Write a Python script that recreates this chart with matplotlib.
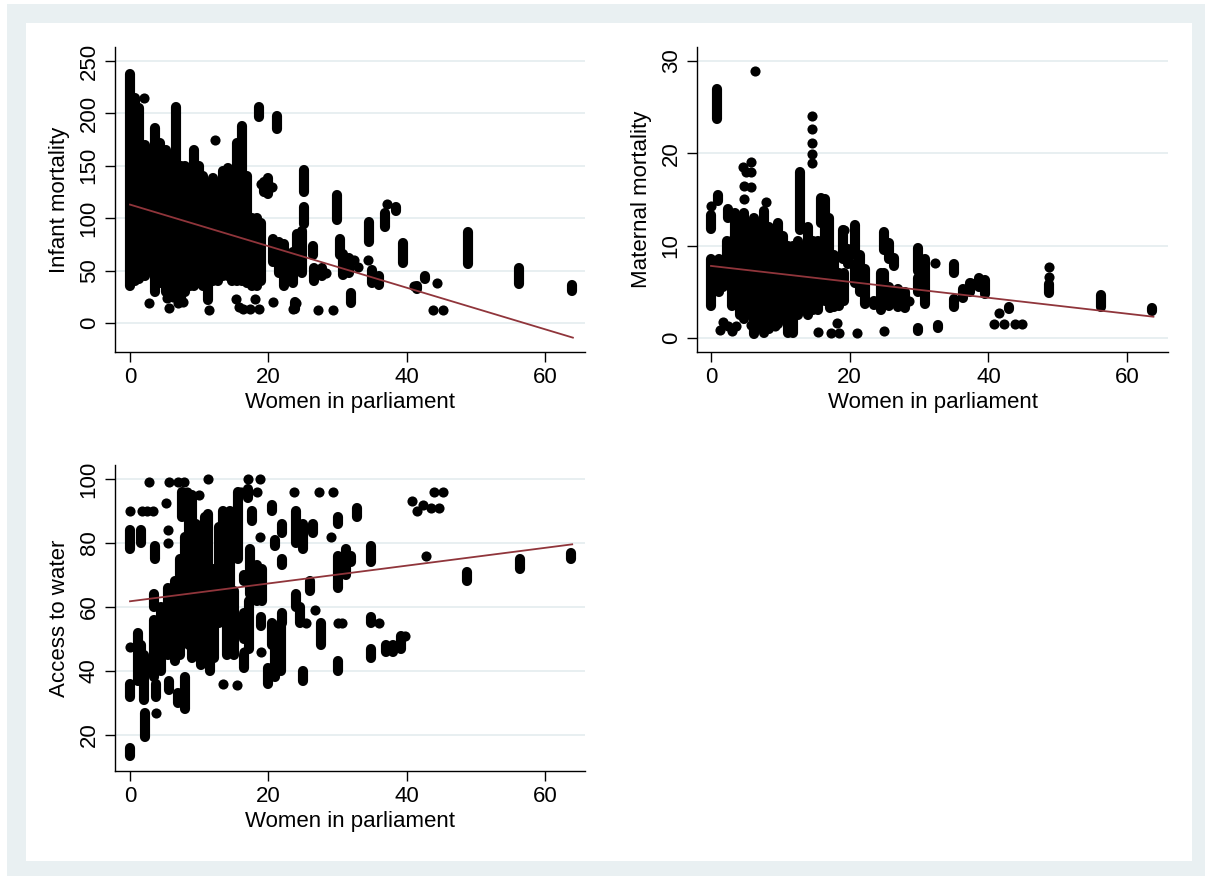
import matplotlib.pyplot as plt
from matplotlib.patches import Rectangle

plt.rcParams['font.family'] = ['Liberation Sans', 'DejaVu Sans']

# women in parliament (x) vs. outcome; country stacks as (x, low, high), single dots as (x, y)
inf_cols = [
    (0.0, 35, 238), (0.7, 40, 215), (1.3, 42, 205), (2.2, 45, 170), (3.0, 50, 160),
    (3.6, 30, 186), (4.4, 38, 172), (5.2, 30, 165), (6.0, 25, 160), (6.6, 40, 206),
    (7.3, 22, 150), (8.0, 30, 150), (8.7, 35, 140), (9.2, 35, 165), (9.9, 38, 150),
    (10.6, 35, 140), (11.3, 22, 130), (12.0, 40, 138), (12.7, 40, 130), (13.4, 45, 145),
    (14.1, 45, 148), (14.8, 40, 130), (15.5, 40, 172), (16.2, 40, 188), (16.9, 38, 140),
    (17.6, 35, 100), (18.3, 35, 100), (18.6, 197, 206), (19.0, 40, 95), (19.3, 125, 135),
    (20.0, 123, 138), (20.6, 58, 80), (21.2, 185, 198), (21.5, 48, 77), (22.2, 35, 75),
    (23.5, 38, 68), (24.2, 55, 85), (24.8, 48, 88), (23.8, 13, 20), (25.1, 125, 146),
    (25.2, 94, 111), (26.5, 65, 73), (26.6, 40, 52), (27.7, 45, 52), (29.9, 98, 122),
    (30.4, 65, 80), (30.8, 46, 66), (31.6, 48, 62), (31.9, 19, 29), (34.6, 77, 96),
    (35.0, 38, 51), (36.0, 36, 45), (36.8, 92, 105), (38.5, 107, 111), (39.5, 57, 76),
    (41.5, 32, 35), (42.6, 42, 45), (48.9, 56, 87), (56.2, 37, 52), (63.8, 31, 36),
]
inf_pts = [
    (2.0, 215), (2.8, 19), (5.3, 24), (5.7, 14), (6.2, 25), (7.0, 19), (7.6, 20),
    (11.4, 12), (12.3, 175), (15.3, 23), (15.8, 15), (16.3, 13), (17.3, 13), (18.0, 23),
    (18.6, 13), (19.0, 133), (20.6, 20), (23.5, 13), (24.0, 19), (27.2, 12), (28.3, 48),
    (29.3, 12), (34.4, 60), (37.2, 114), (41.0, 35), (43.8, 12), (44.3, 38), (45.2, 12),
    (20.5, 130), (32.3, 60), (33.0, 53),
]
inf_fit_x = [0, 64]
inf_fit_y = [113, -14]

mat_cols = [
    (0.0, 3.5, 8.5), (0.0, 11.8, 13.3), (0.9, 23.7, 27.0), (1.0, 14.8, 15.5), (1.2, 5.0, 8.5),
    (1.8, 5.5, 7.0), (2.3, 6.0, 10.5), (2.4, 13.0, 14.0), (3.0, 3.5, 10.5), (3.5, 4.5, 13.5),
    (4.2, 2.5, 12.5), (4.8, 2.0, 13.5), (5.5, 3.5, 12.5), (6.2, 0.4, 13.0), (6.9, 2.5, 12.5),
    (7.6, 0.5, 13.7), (8.3, 1.0, 12.0), (9.0, 1.5, 11.5), (9.7, 1.5, 12.5), (10.4, 2.0, 11.0),
    (11.1, 0.5, 10.0), (11.8, 0.5, 10.0), (12.5, 2.5, 10.5), (12.9, 11.7, 18.0), (13.3, 3.0, 9.5),
    (14.0, 2.5, 12.0), (14.7, 3.0, 10.5), (15.4, 3.0, 10.5), (15.8, 12.5, 15.2), (16.5, 4.0, 15.0),
    (17.0, 9.5, 13.0), (17.2, 3.2, 7.0), (17.7, 3.3, 9.0), (18.4, 3.5, 7.0), (19.0, 8.5, 11.7),
    (19.2, 4.0, 7.0), (19.8, 8.0, 9.6), (20.8, 9.0, 12.2), (20.8, 6.0, 8.0), (21.5, 5.0, 9.0),
    (22.2, 3.7, 7.5), (23.5, 3.6, 4.0), (24.5, 3.0, 7.0), (25.0, 9.5, 11.5), (25.0, 5.0, 7.0),
    (25.7, 8.5, 10.3), (25.7, 3.5, 5.5), (26.4, 7.8, 8.7), (27.0, 3.3, 5.3), (28.0, 3.2, 5.0),
    (29.8, 7.2, 9.7), (29.8, 5.0, 6.5), (29.9, 0.8, 1.1), (30.8, 3.7, 8.6), (32.8, 1.1, 1.4),
    (35.0, 7.0, 8.0), (35.0, 3.4, 4.2), (36.3, 4.3, 5.3), (37.3, 5.0, 6.0), (38.6, 5.5, 6.5),
    (39.5, 4.8, 6.3), (43.0, 3.1, 3.4), (48.8, 4.9, 5.8), (56.3, 3.4, 4.6), (63.6, 2.9, 3.2),
]
mat_pts = [
    (0.0, 14.3), (6.4, 28.9), (14.6, 18.9), (14.6, 19.9), (14.6, 21.1), (14.6, 22.6),
    (14.6, 24.0), (4.6, 18.5), (5.0, 18.0), (4.8, 16.4), (4.8, 15.0), (5.7, 19.0),
    (5.7, 18.0), (5.8, 16.3), (7.9, 14.7), (19.2, 11.7), (28.5, 4.0), (32.3, 8.1),
    (37.5, 5.9), (40.8, 1.5), (41.5, 2.7), (42.3, 1.5), (43.8, 1.5), (44.8, 1.5),
    (48.8, 6.6), (48.8, 7.7), (1.3, 0.9), (1.8, 1.7), (2.5, 1.3), (3.0, 0.7), (3.6, 1.3),
    (5.8, 1.4), (9.2, 1.3), (17.3, 0.5), (18.2, 1.6), (18.5, 0.5), (21.0, 0.5),
    (25.0, 0.7), (15.4, 0.6),
]
mat_fit_x = [0, 63.8]
mat_fit_y = [7.8, 2.3]

wat_cols = [
    (0.0, 78, 84), (0.0, 32, 36), (0.0, 13.5, 16), (1.1, 37, 52), (1.6, 80, 84),
    (1.6, 38, 48), (2.0, 31, 45), (2.2, 19.5, 27), (3.5, 38, 56), (3.5, 60, 64),
    (3.6, 75, 79), (3.7, 32, 36), (4.5, 40, 60), (5.5, 45, 66), (5.6, 34, 37),
    (6.5, 43, 68), (7.0, 30, 33), (7.2, 45, 75), (7.5, 88, 96), (8.0, 28, 38),
    (8.0, 50, 82), (8.5, 48, 88), (9.0, 44, 95), (9.6, 47, 86), (10.2, 42, 80),
    (10.8, 50, 88), (11.3, 66, 89), (11.5, 40, 60), (12.2, 44, 72), (12.8, 55, 85),
    (13.5, 60, 90), (14.0, 45, 80), (14.5, 58, 90), (15.0, 45, 65), (15.6, 75, 96),
    (16.5, 41, 45), (16.5, 50, 58), (16.5, 68, 70), (17.0, 94, 97), (17.2, 47, 62),
    (17.4, 64, 78), (17.7, 87, 90), (18.3, 62, 73), (19.0, 54, 57), (19.1, 62, 72),
    (20.0, 36, 41), (20.5, 90, 92), (20.5, 48, 55), (21.0, 79, 81), (21.0, 38, 49),
    (21.8, 40, 55), (22.0, 83, 86), (22.0, 73, 75), (22.0, 55, 58), (24.0, 80, 90),
    (24.0, 60, 64), (24.6, 55, 60), (25.0, 78, 86), (25.0, 37, 40), (26.0, 65, 68),
    (26.5, 83, 86), (27.6, 48, 55), (30.0, 86, 88), (30.0, 66, 76), (30.0, 40, 43),
    (31.2, 70, 78), (32.0, 74, 76), (32.8, 88, 91), (34.8, 74, 79), (34.8, 55, 57),
    (34.8, 44, 47), (37.0, 46, 48), (38.0, 46, 48), (39.2, 47, 51), (48.7, 68, 71),
    (56.3, 72, 75), (63.7, 75, 77),
]
wat_pts = [
    (0.0, 90), (0.0, 47.5), (2.8, 99), (2.5, 90), (1.8, 90), (3.3, 90), (3.7, 27),
    (5.2, 92.5), (5.5, 80), (5.5, 84), (5.6, 99), (7.0, 99), (7.8, 99), (8.3, 96),
    (10.0, 95), (11.3, 100), (13.5, 36), (15.5, 35.5), (16.1, 96), (17.0, 100),
    (18.3, 96), (18.8, 100), (18.8, 82), (19.0, 46), (23.7, 96), (25.4, 55), (26.8, 59),
    (27.3, 96), (29.1, 82), (29.3, 96), (30.0, 55), (30.6, 55), (36.0, 55), (39.8, 51),
    (40.8, 93), (41.5, 90), (42.3, 92), (42.8, 76), (43.5, 91), (44.0, 96), (44.6, 91),
    (45.3, 96), (16.5, 46), (14.8, 46),
]
wat_fit_x = [0, 63.9]
wat_fit_y = [61.8, 79.6]

BG = '#e9f0f2'
GRID = '#e4ecef'
FIT = '#90353b'
MS = 7.3  # marker diameter in points

W, H = 1205, 876
fig = plt.figure(figsize=(W / 100, H / 100), dpi=100)
fig.patch.set_facecolor('white')
fig.patches.append(Rectangle((7 / W, 0), 1 - 7 / W, 1 - 4 / H, transform=fig.transFigure,
                             facecolor=BG, edgecolor='none', zorder=-2))
fig.patches.append(Rectangle((26 / W, 15 / H), (1192 - 26) / W, (861 - 23) / H,
                             transform=fig.transFigure, facecolor='white', edgecolor='none',
                             zorder=-1))


def panel(rect, cols, pts, fit_x, fit_y, xlim, ylim, yticks, ylabel):
    ax = fig.add_axes(rect)
    ax.set_facecolor('white')
    ax.set_xlim(xlim)
    ax.set_ylim(ylim)
    ax.set_xticks([0, 20, 40, 60])
    ax.set_yticks(yticks)
    ax.grid(axis='y', color=GRID, linewidth=1.2, zorder=0)
    ax.set_axisbelow(True)

    cx = [c[0] for c in cols]
    clo = [c[1] for c in cols]
    chi = [c[2] for c in cols]
    ax.vlines(cx, clo, chi, colors='black', linewidth=MS, capstyle='round', zorder=2)
    ax.scatter([p[0] for p in pts], [p[1] for p in pts], s=MS ** 2, c='black',
               linewidths=0, zorder=2)
    ax.plot(fit_x, fit_y, color=FIT, linewidth=1.3, zorder=3)

    for s in ['top', 'right']:
        ax.spines[s].set_visible(False)
    for s in ['left', 'bottom']:
        ax.spines[s].set_linewidth(1.0)
    ax.tick_params(direction='out', length=7, width=1.0, pad=4, labelsize=16)
    ax.tick_params(axis='y', labelrotation=90)
    plt.setp(ax.get_yticklabels(), va='center')
    ax.set_xlabel('Women in parliament', fontsize=16, labelpad=3)
    ax.set_ylabel(ylabel, fontsize=16, labelpad=6)
    return ax


panel([115 / W, 0.59817, 470 / W, 0.34817], inf_cols, inf_pts, inf_fit_x, inf_fit_y,
      (-2.17, 65.75), (-27.7, 263.4), [0, 50, 100, 150, 200, 250], 'Infant mortality')
panel([697 / W, 0.59817, 471 / W, 0.34817], mat_cols, mat_pts, mat_fit_x, mat_fit_y,
      (-2.02, 65.9), (-1.52, 31.5), [0, 10, 20, 30], 'Maternal mortality')
panel([115 / W, 0.11986, 470 / W, 0.34932], wat_cols, wat_pts, wat_fit_x, wat_fit_y,
      (-2.17, 65.75), (8.75, 104.4), [20, 40, 60, 80, 100], 'Access to water')

fig.savefig('out.png', dpi=100, facecolor=fig.get_facecolor())
